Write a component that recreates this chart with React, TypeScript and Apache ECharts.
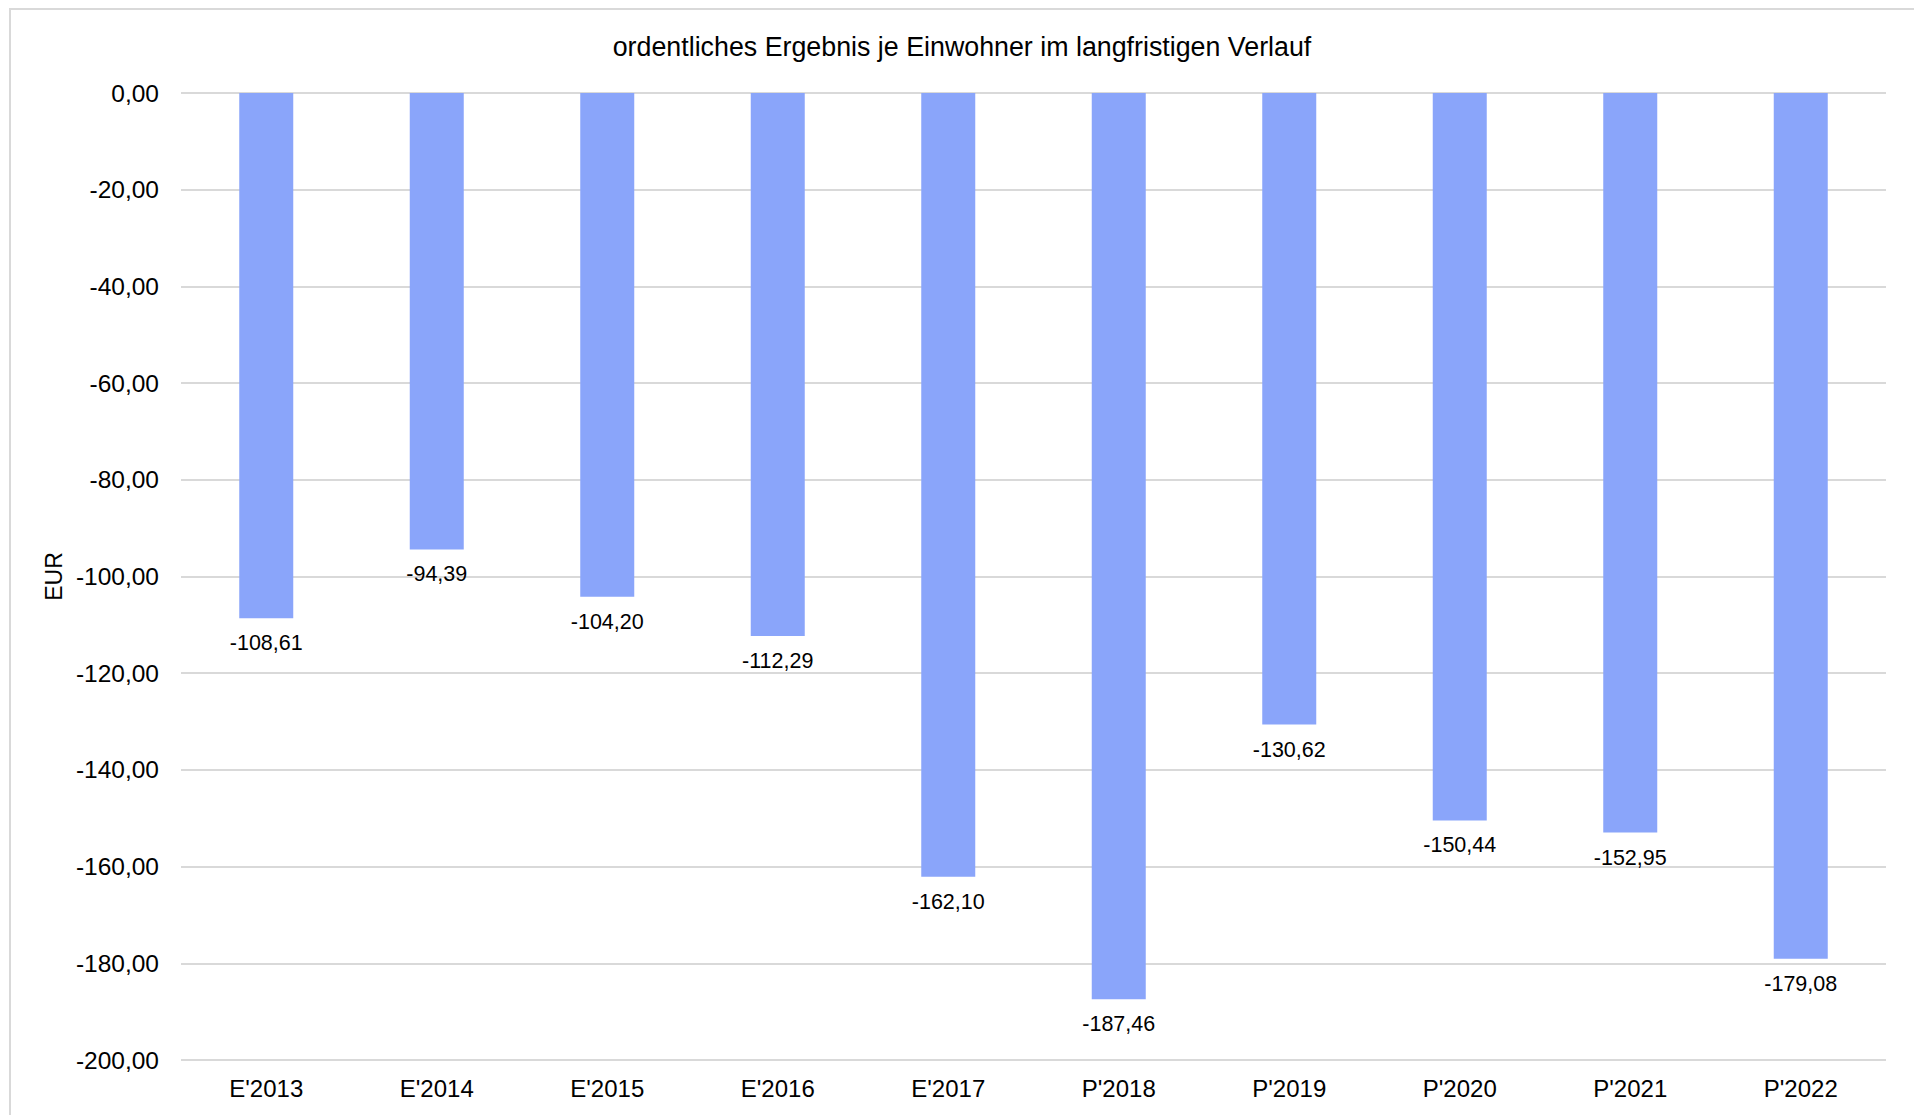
import React, { useEffect, useRef } from "react";
import * as echarts from "echarts";

const categories = ["E'2013", "E'2014", "E'2015", "E'2016", "E'2017", "P'2018", "P'2019", "P'2020", "P'2021", "P'2022"];
const values = [-108.61, -94.39, -104.2, -112.29, -162.1, -187.46, -130.62, -150.44, -152.95, -179.08];
const titleText = "ordentliches Ergebnis je Einwohner im langfristigen Verlauf";
const yAxisName = "EUR";

const fmt = (v: number) => v.toFixed(2).replace(".", ",");

export default function App() {
  const ref = useRef<HTMLDivElement>(null);
  useEffect(() => {
    document.body.style.margin = "0";
    if (!ref.current) return;
    const chart = echarts.init(ref.current, null, { renderer: "svg" });
    const font = "'Liberation Sans', Arial, sans-serif";
    chart.setOption({
      animation: false,
      backgroundColor: "#ffffff",
      textStyle: { fontFamily: font },
      graphic: [
        {
          type: "rect",
          shape: { x: 10, y: 9, width: 2000, height: 1200 },
          style: { fill: "none", stroke: "#d9d9d9", lineWidth: 2 },
          silent: true,
        },
      ],
      title: {
        text: titleText,
        left: 957,
        top: 28,
        textAlign: "center",
        textStyle: { fontFamily: font, fontSize: 26.8, fontWeight: "normal", color: "#000" },
      },
      grid: { left: 181, right: 28, top: 93, bottom: 55, containLabel: false },
      xAxis: {
        type: "category",
        data: categories,
        axisLine: { show: false, onZero: false },
        axisTick: { show: false },
        axisLabel: { color: "#000", fontSize: 24, fontFamily: font, margin: 16 },
      },
      yAxis: {
        type: "value",
        min: -200,
        max: 0,
        interval: 20,
        name: yAxisName,
        nameLocation: "middle",
        nameGap: 108,
        nameRotate: 90,
        nameTextStyle: { color: "#000", fontSize: 23, fontFamily: font },
        axisLine: { show: false },
        axisTick: { show: false },
        axisLabel: { color: "#000", fontSize: 24.5, fontFamily: font, margin: 22, formatter: (v: number) => fmt(v) },
        splitLine: { lineStyle: { color: "#d9d9d9", width: 2 } },
      },
      series: [
        {
          type: "bar",
          data: values,
          barWidth: 54,
          itemStyle: { color: "#8aa5fa" },
          label: {
            show: true,
            position: "bottom",
            distance: 14,
            color: "#000",
            fontSize: 21.5,
            fontFamily: font,
            formatter: (p: any) => fmt(p.value),
          },
        },
      ],
    });
    return () => chart.dispose();
  }, []);
  return <div ref={ref} style={{ width: 1914, height: 1115 }} />;
}
